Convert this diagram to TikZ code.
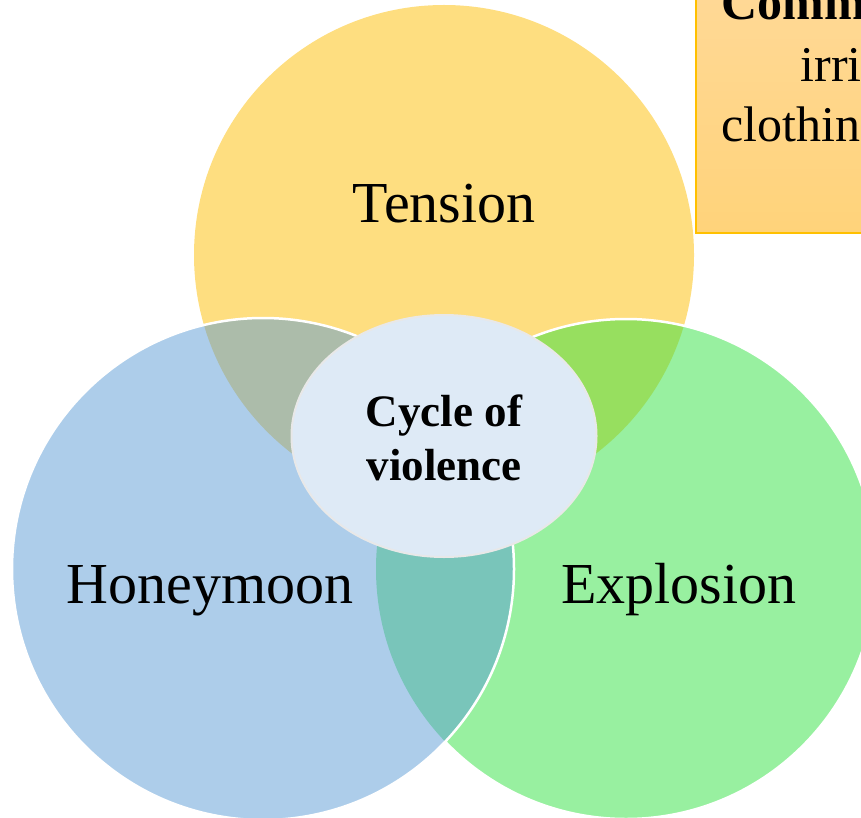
\documentclass[tikz,border=0pt]{standalone}
\usepackage{fontspec}
\usetikzlibrary{shapes.geometric}
\setmainfont{Liberation Serif}
\definecolor{tensionc}{RGB}{253,189,1}
\definecolor{explc}{RGB}{49,225,65}
\definecolor{honeyc}{RGB}{91,155,213}
\definecolor{centerc}{RGB}{222,234,246}
\definecolor{centeredge}{RGB}{232,232,232}
\definecolor{boxtop}{RGB}{255,217,152}
\definecolor{boxbot}{RGB}{255,211,122}
\definecolor{boxedge}{RGB}{255,192,0}
\begin{document}
\begin{tikzpicture}[x=1pt,y=-1pt,
  venn/.style={circle, minimum size=500pt, inner sep=0pt, fill opacity=0.5},
  bigtext/.style={anchor=base, font=\fontsize{58}{70}\selectfont},
  boxtext/.style={anchor=base west, font=\fontsize{50}{60}\selectfont},
  edgeline/.style={draw=white, line width=2.5pt}]
\useasboundingbox (0,0) rectangle (861,818);
\clip (0,0) rectangle (861,818);
% circles
\node[venn, fill=tensionc] (tension) at (444,255) {};
\node[venn, fill=explc] (explosion) at (626,569) {};
\begin{scope}[even odd rule]
  \clip (-10,-10) rectangle (900,900) (263,569) circle[radius=251pt];
  \draw[edgeline] (626,569) circle[radius=250pt];
\end{scope}
\node[venn, fill=honeyc, minimum size=502pt] (honeymoon) at (263,569) {};
\draw[edgeline] (263,569) circle[radius=251pt];
% centre
\node[ellipse, draw=centeredge, line width=2pt, fill=centerc,
      minimum width=305pt, minimum height=242pt, inner sep=0pt] (centre) at (444,436) {};
% labels
\node[bigtext] (tlabel) at (444,223) {Tension};
\node[bigtext] (hlabel) at (210,603) {Honeymoon};
\node[bigtext] (elabel) at (679,603) {Explosion};
\node[anchor=base, font=\fontsize{45}{53}\selectfont\bfseries] (c1) at (444,426) {Cycle of};
\node[anchor=base, font=\fontsize{45}{53}\selectfont\bfseries] (c2) at (444,480) {violence};
% box top right
\node[draw=boxedge, line width=1.5pt, top color=boxtop, bottom color=boxbot,
      minimum width=200pt, minimum height=260pt, anchor=south west, inner sep=0pt] (infobox) at (695,234) {};
\node[boxtext, font=\fontsize{50}{60}\selectfont\bfseries] (b1) at (718,20) {Comm};
\node[boxtext] (b2) at (797,82) {irri};
\node[boxtext] (b3) at (718,142) {clothin};
\end{tikzpicture}
\end{document}
